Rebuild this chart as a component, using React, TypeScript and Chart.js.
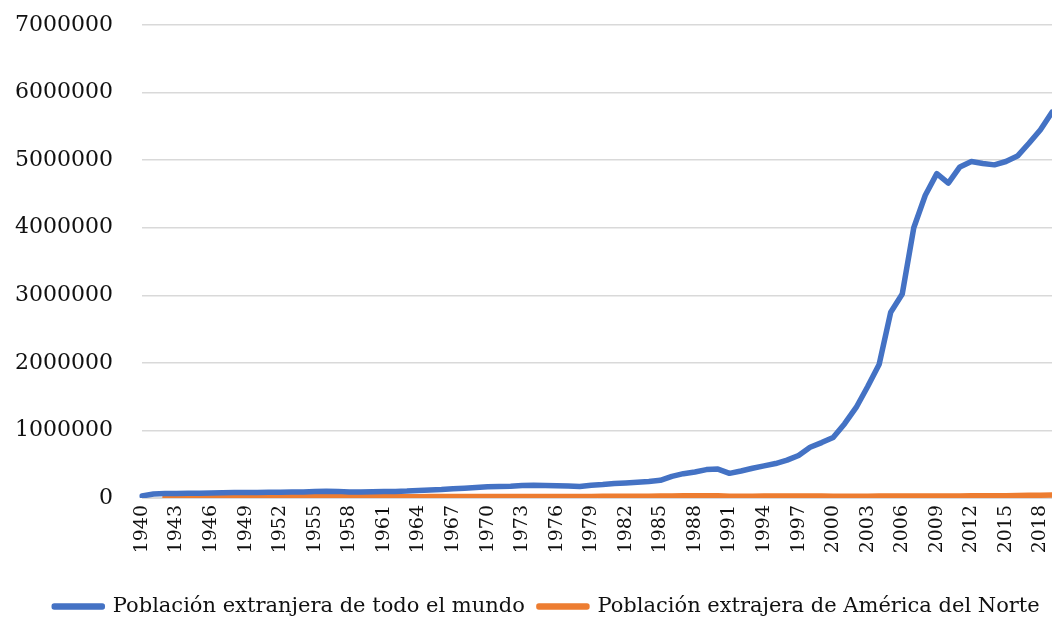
import React, { useEffect, useRef } from "react";
import { Chart, registerables } from "chart.js";

Chart.register(...registerables);

const years = [
  "1940", "1941", "1942", "1943", "1944", "1945", "1946", "1947", "1948", "1949",
  "1950", "1951", "1952", "1953", "1954", "1955", "1956", "1957", "1958", "1959",
  "1960", "1961", "1962", "1963", "1964", "1965", "1966", "1967", "1968", "1969",
  "1970", "1971", "1972", "1973", "1974", "1975", "1976", "1977", "1978", "1979",
  "1980", "1981", "1982", "1983", "1984", "1985", "1986", "1987", "1988", "1989",
  "1990", "1991", "1992", "1993", "1994", "1995", "1996", "1997", "1998", "1999",
  "2000", "2001", "2002", "2003", "2004", "2005", "2006", "2007", "2008", "2009",
  "2010", "2011", "2012", "2013", "2014", "2015", "2016", "2017", "2018", "2019",
];

const shownYearLabels = [
  "1940", "1943", "1946", "1949", "1952", "1955", "1958", "1961", "1964", "1967",
  "1970", "1973", "1976", "1979", "1982", "1985", "1988", "1991", "1994", "1997",
  "2000", "2003", "2006", "2009", "2012", "2015", "2018",
];

const worldForeign = [
  30000, 60000, 65000, 68000, 70000, 72000, 75000, 78000, 80000, 80000,
  82000, 84000, 86000, 88000, 90000, 95000, 100000, 98000, 88000, 90000,
  92000, 95000, 98000, 102000, 110000, 118000, 126000, 138000, 145000, 155000,
  165000, 172000, 175000, 185000, 188000, 185000, 180000, 178000, 170000, 190000,
  200000, 215000, 222000, 232000, 245000, 262000, 320000, 360000, 385000, 420000,
  428000, 365000, 400000, 440000, 475000, 510000, 560000, 630000, 750000, 820000,
  895000, 1100000, 1340000, 1650000, 1980000, 2750000, 3020000, 4000000, 4480000, 4800000,
  4660000, 4900000, 4980000, 4950000, 4930000, 4980000, 5060000, 5250000, 5450000, 5710000,
];

const northAmerica = [
  null, null, 15000, 15000, 16000, 16000, 16000, 17000, 17000, 17000,
  17000, 18000, 18000, 18000, 18000, 19000, 19000, 19000, 18000, 18000,
  18000, 19000, 19000, 20000, 20000, 21000, 21000, 22000, 22000, 23000,
  23000, 24000, 24000, 24000, 24000, 23000, 23000, 23000, 23000, 24000,
  25000, 25000, 26000, 26000, 27000, 28000, 30000, 32000, 33000, 33000,
  32000, 26000, 26000, 27000, 28000, 29000, 30000, 31000, 30000, 29000,
  27000, 26000, 26000, 27000, 28000, 28000, 28000, 29000, 29000, 30000,
  30000, 31000, 32000, 33000, 34000, 35000, 37000, 39000, 41000, 44000,
];

const seriesNames = [
  "Población extranjera de todo el mundo",
  "Población extrajera de América del Norte",
];

const yMax = 7000000;
const yStep = 1000000;

const FONT = "'DejaVu Serif', serif";

export default function App() {
  const ref = useRef<HTMLCanvasElement>(null);

  useEffect(() => {
    const chart = new Chart(ref.current!, {
      type: "line",
      data: {
        labels: years,
        datasets: [
          {
            label: seriesNames[0],
            data: worldForeign,
            borderColor: "#4472C4",
            backgroundColor: "#4472C4",
            borderWidth: 5.5,
            pointRadius: 0,
            tension: 0,
            borderCapStyle: "round",
            borderJoinStyle: "round",
          },
          {
            label: seriesNames[1],
            data: northAmerica,
            borderColor: "#ED7D31",
            backgroundColor: "#ED7D31",
            borderWidth: 5.5,
            pointRadius: 0,
            tension: 0,
            borderCapStyle: "round",
            borderJoinStyle: "round",
          },
        ],
      },
      options: {
        animation: false,
        responsive: true,
        maintainAspectRatio: false,
        layout: { padding: { top: 25, right: 0, left: 0, bottom: -6 } },
        plugins: {
          tooltip: { enabled: false },
          legend: {
            position: "bottom",
            labels: {
              boxWidth: 48,
              boxHeight: 1,
              padding: 14,
              color: "#111",
              font: { family: FONT, size: 21 },
            },
          },
        },
        scales: {
          x: {
            offset: false,
            grid: { display: false, drawTicks: false },
            border: { display: true, color: "#d9d9d9", width: 1 },
            ticks: {
              autoSkip: false,
              maxRotation: 90,
              minRotation: 90,
              padding: 7,
              color: "#111",
              font: { family: FONT, size: 19 },
              callback: (_v: any, i: number) =>
                shownYearLabels.includes(years[i]) ? years[i] : null,
            },
            afterFit: (s: any) => {
              s.height = 84;
            },
          },
          y: {
            min: 0,
            max: yMax,
            grid: {
              color: "#d9d9d9",
              lineWidth: 1.5,
              drawTicks: true,
              tickLength: 25,
              tickColor: "rgba(0,0,0,0)",
            },
            border: { display: false },
            ticks: {
              stepSize: yStep,
              padding: 4,
              color: "#111",
              font: { family: FONT, size: 22 },
              callback: (v: any) => String(v),
            },
            afterFit: (s: any) => {
              s.width = 142;
            },
          },
          yRight: {
            position: "right",
            display: true,
            min: 0,
            max: yMax,
            grid: { display: false, drawTicks: false },
            border: { display: false },
            ticks: { display: false },
            afterFit: (s: any) => {
              s.width = 42;
            },
          },
        },
      },
    });
    return () => chart.destroy();
  }, []);

  return (
    <div
      style={{
        position: "fixed",
        left: 0,
        top: 0,
        width: 1052,
        height: 621,
        overflow: "hidden",
        background: "#fff",
      }}
    >
      <div style={{ position: "absolute", left: 0, top: 0, width: 1094, height: 621 }}>
        <canvas ref={ref} />
      </div>
    </div>
  );
}
